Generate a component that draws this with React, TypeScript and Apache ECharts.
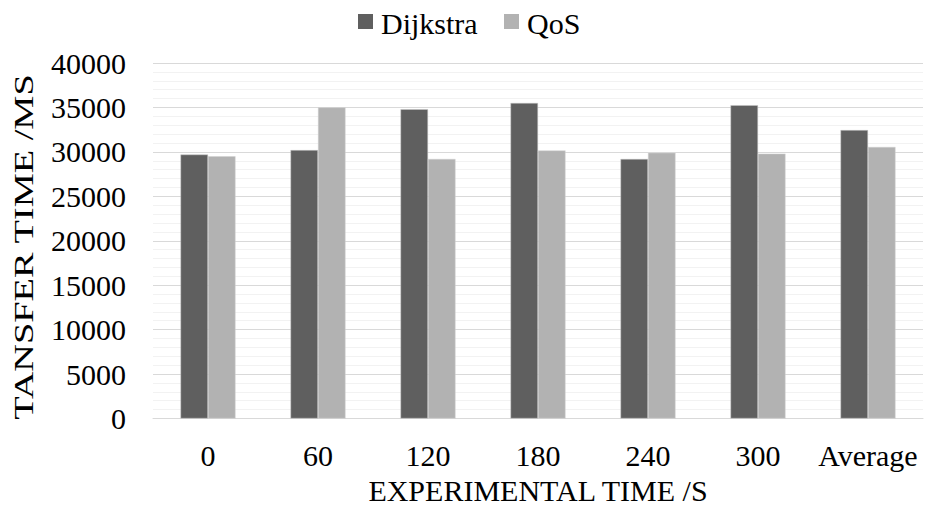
import React, { useEffect, useRef } from "react";
import * as echarts from "echarts";

const categories = ["0", "60", "120", "180", "240", "300", "Average"];
const dijkstra = [29700, 30200, 34800, 35500, 29200, 35250, 32450];
const qos = [29500, 35000, 29200, 30150, 29900, 29800, 30550];
const seriesNames = ["Dijkstra", "QoS"];
const seriesColors = ["#5f5f5f", "#b2b2b2"];
const xTitle = "EXPERIMENTAL TIME /S";
const yTitle = "TANSFER TIME /MS";

const FONT = "Liberation Serif";

export default function App() {
  const ref = useRef<HTMLDivElement>(null);
  useEffect(() => {
    if (!ref.current) return;
    const chart = echarts.init(ref.current, undefined, { renderer: "svg" });
    const legendX = [358, 504];
    const legendGraphics: any[] = [];
    seriesNames.forEach((n, i) => {
      legendGraphics.push({
        type: "rect",
        x: legendX[i],
        y: 14,
        shape: { width: 15, height: 15 },
        style: { fill: seriesColors[i] },
      });
      legendGraphics.push({
        type: "text",
        x: legendX[i] + 23,
        y: 8,
        style: {
          text: n,
          fontFamily: FONT,
          fontSize: 30,
          fill: "#000",
          align: "left",
          verticalAlign: "top",
        },
      });
    });
    chart.setOption({
      animation: false,
      backgroundColor: "#ffffff",
      textStyle: { fontFamily: FONT },
      graphic: [
        ...legendGraphics,
        {
          type: "text",
          x: 24,
          y: 247,
          rotation: Math.PI / 2,
          scaleX: 1.42,
          style: {
            text: yTitle,
            fontFamily: FONT,
            fontSize: 27,
            fill: "#000",
            align: "center",
            verticalAlign: "middle",
          },
        },
      ],
      grid: { left: 153, right: 2, top: 63, bottom: 93.5, containLabel: false },
      xAxis: {
        type: "category",
        data: categories,
        name: xTitle,
        nameLocation: "middle",
        nameGap: 56,
        nameTextStyle: { fontFamily: FONT, fontSize: 30, color: "#000" },
        axisLine: { show: true, lineStyle: { color: "#d9d9d9", width: 1 } },
        axisTick: { show: false },
        axisLabel: { interval: 0, fontFamily: FONT, fontSize: 30, color: "#000", margin: 22 },
      },
      yAxis: {
        type: "value",
        min: 0,
        max: 40000,
        interval: 5000,
        axisLine: { show: false },
        axisTick: { show: false },
        axisLabel: {
          fontFamily: FONT,
          fontSize: 30,
          color: "#000",
          margin: 27,
          formatter: (v: number) => String(v),
        },
        splitLine: { show: true, lineStyle: { color: "#d9d9d9", width: 1 } },
        minorTick: { show: false, splitNumber: 5 },
        minorSplitLine: { show: true, lineStyle: { color: "#f2f2f2", width: 1 } },
      },
      series: [
        {
          name: seriesNames[0],
          type: "bar",
          data: dijkstra,
          barGap: "0%",
          barCategoryGap: "50%",
          itemStyle: { color: seriesColors[0], borderColor: "#c8c8c8", borderWidth: 0.5 },
        },
        {
          name: seriesNames[1],
          type: "bar",
          data: qos,
          barGap: "0%",
          barCategoryGap: "50%",
          itemStyle: { color: seriesColors[1], borderColor: "#d0d0d0", borderWidth: 0.5 },
        },
      ],
    });
    return () => chart.dispose();
  }, []);
  return <div ref={ref} style={{ width: 925, height: 512, position: "absolute", left: 0, top: 0 }} />;
}
